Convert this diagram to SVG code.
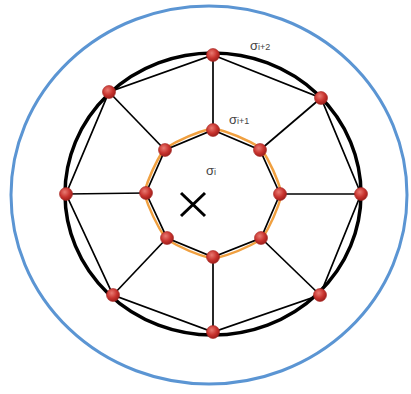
<svg xmlns="http://www.w3.org/2000/svg" width="411" height="394" viewBox="0 0 411 394">
<defs>
<radialGradient id="rg" cx="40%" cy="35%" r="65%">
<stop offset="0" stop-color="#e87a72"/>
<stop offset="0.6" stop-color="#c8332e"/>
<stop offset="1" stop-color="#9e1f1c"/>
</radialGradient>
<style>
.n{fill:url(#rg);stroke:#a52420;stroke-width:0.6}
.e{stroke:#000;stroke-width:1.7;fill:none}
.t{font-family:"Liberation Sans",Arial,sans-serif;font-size:13px;fill:#444}
.s{font-size:9px}
</style>
</defs>
<rect width="411" height="394" fill="#fff"/>
<ellipse cx="209" cy="195" rx="198" ry="189" fill="none" stroke="#5b95d3" stroke-width="3"/>
<ellipse cx="213" cy="194" rx="148" ry="141" fill="none" stroke="#000" stroke-width="3.5"/>
<path d="M213,128 A180,180 0 0 1 261,148 A180,180 0 0 1 282,194 A180,180 0 0 1 262,239 A180,180 0 0 1 213,259 A180,180 0 0 1 166,239 A180,180 0 0 1 144,193 A180,180 0 0 1 164,149 A180,180 0 0 1 213,128 Z" fill="none" stroke="#f0a040" stroke-width="2.5"/>
<g id="connectors">
<polygon class="e" points="213,55 321,98 361,194 320,295 213,332 113,295 66,194 109,92"/>
<polygon class="e" points="213,130 260,150 280,194 261,238 213,257 167,238 146,193 165,150"/>
<line class="e" x1="213" y1="55" x2="213" y2="130"/>
<line class="e" x1="321" y1="98" x2="260" y2="150"/>
<line class="e" x1="361" y1="194" x2="280" y2="194"/>
<line class="e" x1="320" y1="295" x2="261" y2="238"/>
<line class="e" x1="213" y1="332" x2="213" y2="257"/>
<line class="e" x1="113" y1="295" x2="167" y2="238"/>
<line class="e" x1="66" y1="194" x2="146" y2="193"/>
<line class="e" x1="109" y1="92" x2="165" y2="150"/>
</g>
<g id="outer-nodes">
<circle id="o1" class="n" cx="213" cy="55" r="6.5"/>
<circle id="o2" class="n" cx="321" cy="98" r="6.5"/>
<circle id="o3" class="n" cx="361" cy="194" r="6.5"/>
<circle id="o4" class="n" cx="320" cy="295" r="6.5"/>
<circle id="o5" class="n" cx="213" cy="332" r="6.5"/>
<circle id="o6" class="n" cx="113" cy="295" r="6.5"/>
<circle id="o7" class="n" cx="66" cy="194" r="6.5"/>
<circle id="o8" class="n" cx="109" cy="92" r="6.5"/>
</g>
<g id="inner-nodes">
<circle id="i1" class="n" cx="213" cy="130" r="6.5"/>
<circle id="i2" class="n" cx="260" cy="150" r="6.5"/>
<circle id="i3" class="n" cx="280" cy="194" r="6.5"/>
<circle id="i4" class="n" cx="261" cy="238" r="6.5"/>
<circle id="i5" class="n" cx="213" cy="257" r="6.5"/>
<circle id="i6" class="n" cx="167" cy="238" r="6.5"/>
<circle id="i7" class="n" cx="146" cy="193" r="6.5"/>
<circle id="i8" class="n" cx="165" cy="150" r="6.5"/>
</g>
<g id="center-x" stroke="#000" stroke-width="3">
<line x1="181" y1="193" x2="205" y2="216"/>
<line x1="205" y1="193" x2="181" y2="216"/>
</g>
<g id="labels">
<text class="t" x="206" y="175">σ<tspan class="s">i</tspan></text>
<text class="t" x="229" y="124">σ<tspan class="s">i+1</tspan></text>
<text class="t" x="250" y="50">σ<tspan class="s">i+2</tspan></text>
</g>
</svg>
